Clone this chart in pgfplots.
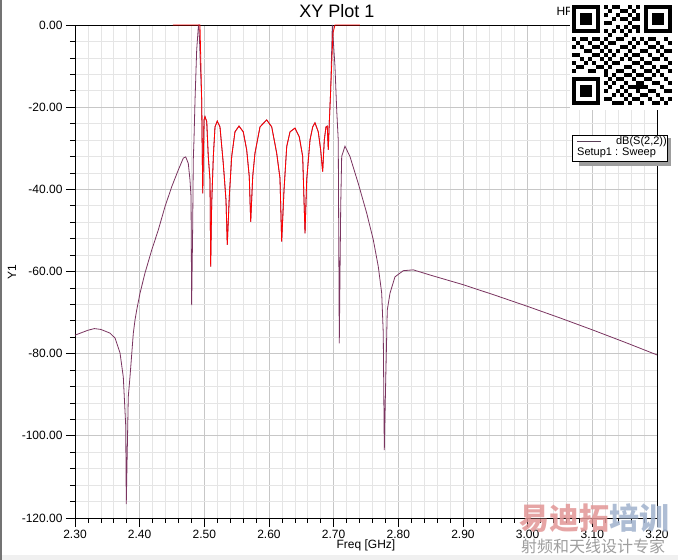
\documentclass[border=0pt]{standalone}
\usepackage{pgfplots}
\pgfplotsset{compat=1.18}
\usepackage{fontspec}
\setmainfont{Liberation Sans}
\newfontfamily\cjk{Noto Sans CJK SC}
\definecolor{trace}{RGB}{122,52,96}
\definecolor{legline}{RGB}{88,60,85}
\definecolor{wmred}{RGB}{226,150,150}
\definecolor{wmblue}{RGB}{160,178,205}
\begin{document}
\begin{tikzpicture}[x=1pt,y=1pt]
\useasboundingbox (0,0) rectangle (678,560);
\fill[white] (0,0) rectangle (678,560);
\fill[black!6] (0,0) rectangle (678,5);
\draw[black!55, line width=1.5pt] (1,0) -- (1,560);
\begin{axis}[
  at={(75pt,42pt)}, anchor=south west, scale only axis,
  width=582pt, height=493pt,
  xmin=2.3, xmax=3.2, ymin=-120, ymax=0,
  xtick={2.3,2.4,2.5,2.6,2.7,2.8,2.9,3.0,3.1,3.2},
  ytick={-120,-100,-80,-60,-40,-20,0},
  minor x tick num=4, minor y tick num=4,
  grid=both,
  major grid style={color=black!22, line width=0.7pt},
  minor grid style={color=black!10, line width=0.7pt},
  tick align=outside, tick pos=left,
  major tick length=9pt, minor tick length=5pt,
  tick style={black, line width=0.7pt},
  axis line style={black, line width=0.9pt},
  ticklabel style={font=\fontsize{12}{14}\selectfont},
  /pgf/number format/.cd, fixed, fixed zerofill, precision=2, assume math mode=true,
]
\addplot[trace, line width=0.8pt] coordinates {
(2.300,-75.5) (2.310,-74.9) (2.320,-74.3) (2.330,-73.9) (2.340,-74.1)
(2.3541,-75.0) (2.3619,-76.2) (2.3696,-79.8) (2.3747,-85.7) (2.3784,-97.4)
(2.3793,-116.6) (2.3809,-103.0) (2.3824,-90.5) (2.3850,-85.7) (2.3902,-75.0)
(2.3928,-71.8) (2.3954,-69.4) (2.4005,-65.3) (2.4082,-60.4) (2.4186,-54.8)
(2.4288,-49.9) (2.4392,-44.2) (2.4495,-39.4) (2.4597,-35.3) (2.4675,-32.4)
(2.4712,-32.1) (2.4752,-33.7) (2.4778,-37.7) (2.4794,-41.8) (2.4804,-68.2)
(2.4820,-49.1) (2.4829,-32.9) (2.4840,-28.0) (2.4856,-18.3) (2.4882,-6.0)
(2.4907,-0.5) (2.4917,0)
(2.4959,-18.3) (2.4975,-41.0) (2.4995,-23.1) (2.5010,-22.3) (2.5037,-23.5)
(2.5061,-32.0) (2.5088,-37.7) (2.5098,-58.8) (2.5114,-43.4) (2.5139,-32.0)
(2.5165,-24.8) (2.5200,-23.4) (2.5242,-24.8) (2.5293,-33.7) (2.5335,-42.6)
(2.5355,-53.5) (2.5386,-41.8) (2.5423,-32.0) (2.5474,-26.0) (2.5536,-24.6)
(2.5602,-26.0) (2.5655,-30.4) (2.5695,-36.9) (2.5717,-47.9) (2.5748,-36.9)
(2.5783,-31.2) (2.5861,-24.8) (2.5964,-23.1) (2.6042,-24.8) (2.6119,-31.2)
(2.6170,-37.3) (2.6196,-52.7) (2.6232,-40.2) (2.6274,-29.6) (2.6325,-26.0)
(2.6402,-25.1) (2.6468,-27.2) (2.6521,-32.0) (2.6557,-50.7) (2.6583,-37.7)
(2.6634,-28.0) (2.6676,-24.8) (2.6711,-23.8) (2.6762,-26.0) (2.6799,-30.4)
(2.6830,-35.7) (2.6855,-28.0) (2.6881,-24.8) (2.6901,-24.6) (2.6917,-30.4)
(2.6932,-23.9) (2.6954,-15.8) (2.6979,0)
(2.7020,-10.0) (2.7047,-20.7) (2.7071,-28.0) (2.7087,-77.5) (2.7109,-44.2)
(2.7124,-32.0) (2.7175,-29.5) (2.7252,-32.0) (2.7381,-38.6) (2.7511,-45.8)
(2.7613,-52.3) (2.7690,-58.8) (2.7743,-65.3) (2.7767,-75.0) (2.7783,-103.5)
(2.7804,-87.2) (2.7829,-69.4) (2.7871,-65.3) (2.7948,-61.3) (2.8077,-59.8)
(2.8231,-59.6) (2.8335,-60.1) (2.850,-60.9) (2.900,-63.2) (2.950,-65.8)
(3.000,-68.5) (3.050,-71.3) (3.100,-74.2) (3.150,-77.2) (3.200,-80.3)
};
\addplot[red, line width=0.8pt] coordinates {
(2.4515,0) (2.4887,0) (2.4933,0)
(2.4959,-18.3) (2.4975,-41.0) (2.4995,-23.1) (2.5010,-22.3) (2.5037,-23.5)
(2.5061,-32.0) (2.5088,-37.7) (2.5098,-58.8) (2.5114,-43.4) (2.5139,-32.0)
(2.5165,-24.8) (2.5200,-23.4) (2.5242,-24.8) (2.5293,-33.7) (2.5335,-42.6)
(2.5355,-53.5) (2.5386,-41.8) (2.5423,-32.0) (2.5474,-26.0) (2.5536,-24.6)
(2.5602,-26.0) (2.5655,-30.4) (2.5695,-36.9) (2.5717,-47.9) (2.5748,-36.9)
(2.5783,-31.2) (2.5861,-24.8) (2.5964,-23.1) (2.6042,-24.8) (2.6119,-31.2)
(2.6170,-37.3) (2.6196,-52.7) (2.6232,-40.2) (2.6274,-29.6) (2.6325,-26.0)
(2.6402,-25.1) (2.6468,-27.2) (2.6521,-32.0) (2.6557,-50.7) (2.6583,-37.7)
(2.6634,-28.0) (2.6676,-24.8) (2.6711,-23.8) (2.6762,-26.0) (2.6799,-30.4)
(2.6830,-35.7) (2.6855,-28.0) (2.6881,-24.8) (2.6901,-24.6) (2.6917,-30.4)
(2.6932,-23.9) (2.6954,-15.8) (2.6989,-2.0) (2.7020,0) (2.7407,0)
};
\end{axis}
% titles and labels
\node[font=\fontsize{18}{20}\selectfont] at (337,549) {XY Plot 1};
\node[font=\fontsize{12}{14}\selectfont] at (366,15) {Freq [GHz]};
\node[font=\fontsize{12}{14}\selectfont, rotate=90] at (12,288) {Y1};
\node[font=\fontsize{12}{14}\selectfont, anchor=west] at (553,548) {HFSSDesign1};
% QR-like block
\fill[white] (570,450) rectangle (678,560);
\begin{scope}[shift={(572,555)}]
  \foreach \ox/\oy in {0/0,72/0,0/-72}{
    \fill[black] (\ox,\oy) rectangle ++(28,-28);
    \fill[white] (\ox+4,\oy-4) rectangle ++(20,-20);
    \fill[black] (\ox+8,\oy-8) rectangle ++(12,-12);
  }
  \foreach \r/\cs in {0/{8,10,11,14,16},1/{9,12,13,15},2/{8,11,14,16},3/{10,12,13,15,16},4/{8,9,14},5/{11,13,15,16},6/{8,10,12,14,16},7/{9,13},8/{0,2,3,5,6,8,11,12,15,17,19,20,23},9/{1,4,7,9,10,14,16,18,21,24},10/{0,2,5,6,8,12,13,15,19,20,22},11/{3,4,7,9,11,14,17,18,21,23,24},12/{0,1,5,6,8,10,13,15,16,19,22},13/{2,4,7,9,12,14,17,20,21,23},14/{0,3,5,8,10,11,15,16,18,19,24},15/{1,2,6,7,9,13,14,17,20,22,23},16/{0,4,5,8,11,12,15,18,19,21,24},17/{8,10,13,14,16,17,20,22},18/{9,11,12,15,18,19,23},19/{8,10,13,16,17,20,21,24},20/{9,12,14,15,16,17,18,22},21/{8,11,13,16,19,20,23,24},22/{10,12,14,17,18,21},23/{8,9,13,15,16,19,22,24},24/{10,11,12,14,17,20,21,23}}{
    \foreach \c in \cs {
      \fill[black] (4*\c,-4*\r) rectangle ++(4,-4);
    }
  }
\end{scope}
% legend
\fill[black!38] (579,394.3) rectangle (670.7,422);
\draw[black, fill=white, line width=0.8pt] (572.3,399) rectangle (667.3,425);
\draw[legline, line width=1.2pt] (577,418.3) -- (600.7,418.3);
\node[font=\fontsize{11}{12}\selectfont, anchor=east, inner sep=0pt] at (667,418.3) {dB(S(2,2))};
\node[font=\fontsize{11}{12}\selectfont, anchor=west, inner sep=0pt] at (577,406.7) {Setup1 : Sweep};
% watermark
\node[font=\cjk\bfseries\fontsize{30}{32}\selectfont, anchor=west, inner sep=0pt, opacity=0.85] at (519,42) {\textcolor{wmred}{易迪拓}\textcolor{wmblue}{培训}};
\node[font=\cjk\fontsize{16}{18}\selectfont, anchor=west, inner sep=0pt, text=black!38] at (521,14) {射频和天线设计专家};
\end{tikzpicture}
\end{document}
